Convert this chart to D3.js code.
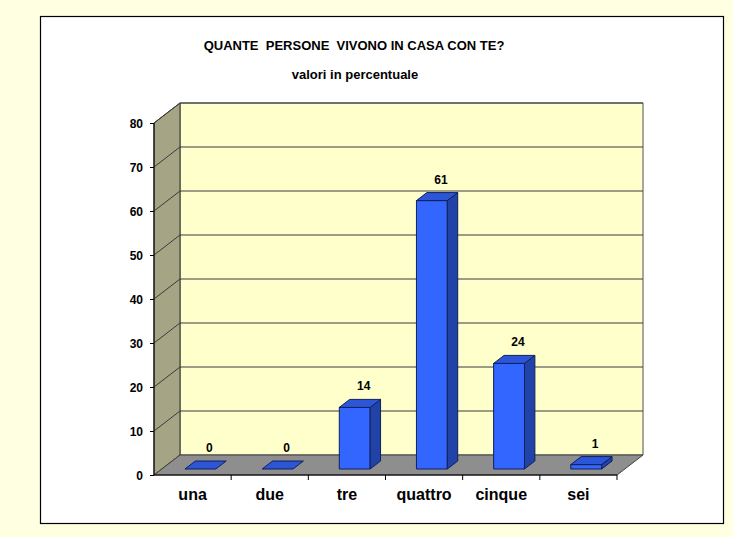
<!DOCTYPE html>
<html>
<head>
<meta charset="utf-8">
<script src="https://cdn.jsdelivr.net/npm/d3@7"></script>
<style>
  body { margin: 0; background: #FFFFE1; }
  text { font-family: "Liberation Sans", Arial, sans-serif; font-weight: bold; fill: #000; }
</style>
</head>
<body>
<div id="chart"></div>
<script>
// Chart data
var categories = ["una", "due", "tre", "quattro", "cinque", "sei"];
var values = [0, 0, 14, 61, 24, 1];
var yTicks = [0, 10, 20, 30, 40, 50, 60, 70, 80];
var title = "QUANTE  PERSONE  VIVONO IN CASA CON TE?";
var subtitle = "valori in percentuale";

function drawChart() {
    var W = 733, H = 537;
    // depth of the 3D box
    var DX = 26, DY = -20;

    var svg = d3.select("#chart")
        .append("svg")
        .attr("width", W)
        .attr("height", H);

    // white panel with border
    svg.append("rect")
        .attr("x", 40.5).attr("y", 16.5)
        .attr("width", 683).attr("height", 507)
        .attr("fill", "#fff").attr("stroke", "#000").attr("stroke-width", 1.2);

    svg.append("text")
        .attr("x", 354).attr("y", 50)
        .attr("text-anchor", "middle")
        .style("font-size", "13px")
        .style("white-space", "pre")
        .text(title);
    svg.append("text")
        .attr("x", 355).attr("y", 79)
        .attr("text-anchor", "middle")
        .style("font-size", "13px")
        .text(subtitle);

    var x = d3.scaleBand()
        .domain(categories)
        .range([154, 617]);
    var y = d3.scaleLinear()
        .domain([0, 80])
        .range([475, 123]);

    var x0 = x.range()[0], x1 = x.range()[1];
    var yb = y(0), yt = y(80);
    var poly = pts => pts.map(p => p.join(",")).join(" ");

    // back wall
    svg.append("polygon")
        .attr("points", poly([[x0 + DX, yb + DY], [x1 + DX, yb + DY], [x1 + DX, yt + DY], [x0 + DX, yt + DY]]))
        .attr("fill", "#FFFFCC").attr("stroke", "#505050");
    // left wall
    svg.append("polygon")
        .attr("points", poly([[x0, yb], [x0 + DX, yb + DY], [x0 + DX, yt + DY], [x0, yt]]))
        .attr("fill", "#A5A585").attr("stroke", "#303030");
    // floor
    svg.append("polygon")
        .attr("points", poly([[x0, yb], [x1, yb], [x1 + DX, yb + DY], [x0 + DX, yb + DY]]))
        .attr("fill", "#8E8E8E").attr("stroke", "#404040");

    // gridlines
    var grid = svg.append("g").attr("stroke", "#3a3a3a").attr("stroke-width", 1);
    yTicks.filter(t => t > 0).forEach(t => {
        grid.append("line")
            .attr("x1", x0 + DX).attr("x2", x1 + DX)
            .attr("y1", y(t) + DY).attr("y2", y(t) + DY);
        grid.append("line")
            .attr("x1", x0).attr("x2", x0 + DX)
            .attr("y1", y(t)).attr("y2", y(t) + DY);
    });

    // Y axis
    svg.append("g")
        .attr("transform", `translate(${x0},0)`)
        .call(d3.axisLeft(y).tickValues(yTicks).tickSize(4).tickPadding(7))
        .call(g => g.select(".domain").attr("stroke", "#000").attr("d", `M0,${yt}V${yb}`))
        .selectAll("text")
        .style("font-size", "12px")
        .attr("dy", "0.35em");

    // X axis
    svg.append("g")
        .attr("transform", `translate(0,${yb})`)
        .call(d3.axisBottom(x).tickSize(0).tickPadding(14))
        .call(g => g.select(".domain").attr("stroke", "#000").attr("d", `M${x0},0H${x1}`))
        .selectAll("text")
        .style("font-size", "16px");
    svg.append("g")
        .selectAll("line")
        .data(categories.slice(1).concat([null]))
        .enter()
        .append("line")
        .attr("x1", (d, i) => x.range()[0] + x.step() * (i + 1))
        .attr("x2", (d, i) => x.range()[0] + x.step() * (i + 1))
        .attr("y1", yb).attr("y2", yb + 5)
        .attr("stroke", "#000");

    // 3D bars
    var bw = x.bandwidth() * 0.4;
    var bdx = DX * 0.4, bdy = DY * 0.4;
    var bars = svg.append("g").attr("stroke", "#10205a").attr("stroke-width", 1).attr("stroke-linejoin", "round");
    categories.forEach((c, i) => {
        var v = values[i];
        var fx = x(c) + x.bandwidth() * 0.3 + DX * 0.3;
        var fb = y(0) + DY * 0.3;
        var ft = y(v) + DY * 0.3;
        // front
        if (v > 0) {
            bars.append("rect")
                .attr("x", fx).attr("y", ft)
                .attr("width", bw).attr("height", fb - ft)
                .attr("fill", "#3366FF");
            bars.append("polygon")
                .attr("points", poly([[fx + bw, fb], [fx + bw + bdx, fb + bdy], [fx + bw + bdx, ft + bdy], [fx + bw, ft]]))
                .attr("fill", "#2143A8");
        }
        // top
        bars.append("polygon")
            .attr("points", poly([[fx, ft], [fx + bw, ft], [fx + bw + bdx, ft + bdy], [fx + bdx, ft + bdy]]))
            .attr("fill", "#2D55D8");
        // value label
        svg.append("text")
            .attr("x", fx + bw / 2 + 9)
            .attr("y", ft + bdy - 9)
            .attr("text-anchor", "middle")
            .style("font-size", "12px")
            .text(v);
    });
}

drawChart();
</script>
</body>
</html>
